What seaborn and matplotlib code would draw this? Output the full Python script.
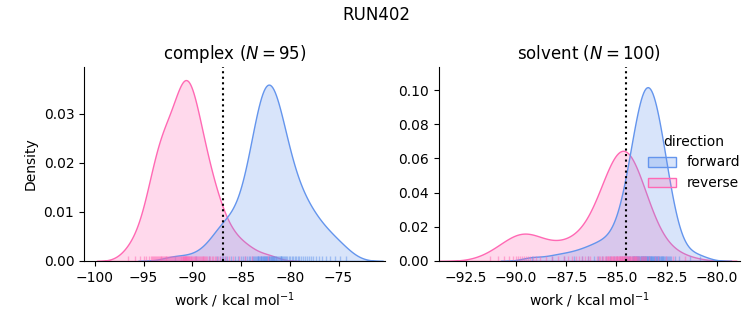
import matplotlib
matplotlib.use("Agg")
import matplotlib.pyplot as plt
import numpy as np
import pandas as pd
import seaborn as sns

# ---- data (work values, kcal/mol) ----
complex_forward = [
    -91.8, -89.6, -88.3,
    -87.5, -87.2, -87.0, -86.8, -86.6, -86.4,
    -86.0, -85.6, -85.3,
    -85.0, -84.8, -84.6, -84.4,
    -84.2, -84.05, -83.9, -83.8, -83.7, -83.6, -83.5, -83.4,
    -83.3, -83.26, -83.22, -83.15, -83.08, -83.0, -82.97, -82.93, -82.86, -82.79,
    -82.72, -82.68, -82.65, -82.58, -82.51, -82.44, -82.4, -82.37, -82.3,
    -82.23, -82.16, -82.12, -82.09, -82.02, -81.95, -81.88, -81.85, -81.81, -81.74,
    -81.67, -81.6, -81.57, -81.53, -81.46, -81.39, -81.32,
    -81.25, -81.15, -81.05, -80.95, -80.9, -80.85, -80.75, -80.65, -80.55, -80.45, -80.35,
    -80.25, -80.1, -79.95, -79.8, -79.65, -79.5, -79.35, -79.2, -79.05,
    -78.85, -78.65, -78.45, -78.25, -78.05, -77.85,
    -77.6, -77.3, -77.0, -76.7,
    -76.3, -75.9, -75.4, -74.9, -74.2,
]
complex_reverse = [
    -96.6, -95.9, -95.4, -95.0, -94.7, -94.4, -94.2, -94.1, -94.0, -93.95, -93.85, -93.7,
    -93.6, -93.5, -93.4, -93.3, -93.25, -93.2, -93.1, -93.0, -92.9,
    -92.8, -92.7, -92.65, -92.6,
    -92.5, -92.4, -92.3, -92.2, -92.1, -92.0, -91.9, -91.8, -91.7, -91.6, -91.5,
    -91.35, -91.3, -91.2, -91.15, -91.1, -91.0, -90.95, -90.9, -90.85, -90.8, -90.75,
    -90.72, -90.7, -90.65, -90.62, -90.6, -90.55,
    -90.5, -90.45, -90.4, -90.35, -90.3, -90.2, -90.15, -90.1, -90.0, -89.9, -89.8,
    -89.75, -89.7, -89.6,
    -89.55, -89.45, -89.35, -89.25, -89.15, -89.05, -88.95, -88.85, -88.75, -88.65, -88.55,
    -88.45, -88.3, -88.15, -88.0, -87.85, -87.7, -87.55, -87.35,
    -87.15, -86.85, -86.55, -86.25,
    -85.8, -85.2, -84.6, -83.9, -82.2,
]
solvent_forward = [
    -89.2, -88.2, -87.6, -87.1, -86.7, -86.4, -86.1, -85.9, -85.7, -85.5, -85.3,
    -85.1, -84.95,
    -84.82, -84.72,
    -84.6, -84.55, -84.5, -84.45, -84.4, -84.35, -84.3, -84.25, -84.2,
    -84.17, -84.14, -84.11, -84.08, -84.05, -84.02, -83.99, -83.96, -83.94, -83.91,
    -83.88, -83.86, -83.83, -83.80, -83.78, -83.76, -83.74, -83.72, -83.70,
    -83.68, -83.66, -83.64, -83.62, -83.60, -83.58, -83.56, -83.54, -83.52, -83.50,
    -83.48, -83.46, -83.44, -83.42, -83.40, -83.38, -83.36, -83.34, -83.32, -83.30,
    -83.28, -83.26, -83.24, -83.22, -83.20,
    -83.18, -83.15, -83.12, -83.10, -83.07, -83.04, -83.02, -82.99, -82.96, -82.94,
    -82.91, -82.88, -82.86, -82.83, -82.80, -82.78, -82.75, -82.73, -82.70,
    -82.66, -82.61, -82.56, -82.51, -82.46, -82.41, -82.36, -82.31, -82.26,
    -82.1, -81.9, -81.35, -80.85,
]
solvent_reverse = [
    -91.3, -90.9, -90.6, -90.35, -90.15, -90.0, -89.9, -89.8, -89.7,
    -89.6, -89.5, -89.4, -89.3, -89.15, -89.0, -88.8, -88.5, -88.2,
    -87.9, -87.6, -87.4, -87.2, -87.0, -86.85, -86.7, -86.55, -86.4, -86.3,
    -85.95, -85.87, -85.8, -85.73, -85.65, -85.59, -85.53,
    -85.47, -85.43, -85.4, -85.36, -85.33, -85.29, -85.25, -85.22, -85.18, -85.15,
    -85.11, -85.08, -85.04, -85.01,
    -84.98, -84.95, -84.92, -84.89, -84.87, -84.84, -84.81, -84.78, -84.75, -84.72,
    -84.7, -84.69, -84.67, -84.64, -84.61, -84.58, -84.56, -84.53, -84.51,
    -84.48, -84.45, -84.42, -84.39, -84.36, -84.33, -84.3, -84.27, -84.24, -84.21,
    -84.18, -84.15, -84.12, -84.09, -84.06, -84.03, -84.01,
    -83.97, -83.91, -83.86, -83.8, -83.75, -83.69, -83.64, -83.58, -83.53,
    -83.4, -83.1, -82.95,
    -82.55, -82.2, -81.6,
]

phases = ["complex", "solvent"]
directions = ["forward", "reverse"]
sample_counts = [95, 100]
estimates = [-86.85, -84.5]
run_name = "RUN402"
palette = ["cornflowerblue", "hotpink"]

rows = []
for phase, fwd, rev in [("complex", complex_forward, complex_reverse),
                        ("solvent", solvent_forward, solvent_reverse)]:
    for d, vals in zip(directions, [fwd, rev]):
        for v in vals:
            rows.append({"phase": phase, "direction": d, "work": v})
df = pd.DataFrame(rows)

g = sns.displot(
    data=df, x="work", hue="direction", col="phase", kind="kde",
    fill=True, rug=True, hue_order=directions, col_order=phases,
    palette=palette, facet_kws=dict(sharex=False, sharey=False),
    rug_kws=dict(alpha=0.5), height=3.25, aspect=1.1,
)

xlims = [(-101.1, -70.2), (-93.85, -78.85)]
ylims = [(0, 0.0395), (0, 0.1135)]
for ax, phase, n, est, xl, yl in zip(g.axes.flat, phases, sample_counts, estimates, xlims, ylims):
    ax.axvline(est, color="black", ls=":", lw=1.5)
    ax.set_title(f"{phase} ($N = {n}$)")
    ax.set_xlabel("work / kcal mol$^{-1}$")
    ax.set_xlim(*xl)
    ax.set_ylim(*yl)

fig = g.figure
fig.suptitle(run_name, fontsize=12)
fig.set_size_inches(7.53, 3.25)
fig.subplots_adjust(left=0.1116, right=0.9827, bottom=0.197, top=0.794, wspace=0.177)
fig.savefig("out.png", dpi=100)
